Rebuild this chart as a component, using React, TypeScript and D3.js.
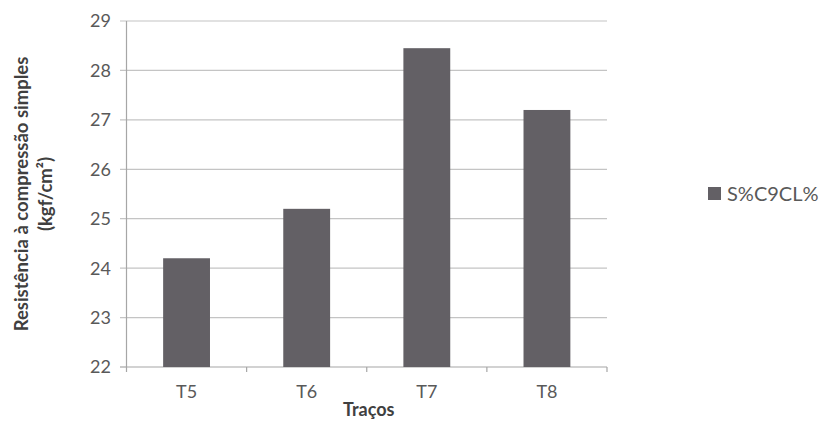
import React from "react";
import * as d3 from "d3";

const categories = ["T5", "T6", "T7", "T8"];
const values = [24.2, 25.2, 28.45, 27.2];
const yTicks = [22, 23, 24, 25, 26, 27, 28, 29];
const seriesName = "S%C9CL%";
const yTitle1 = "Resistência à compressão simples";
const yTitle2 = "(kgf/cm²)";
const xTitle = "Traços";

export default function App() {
  const W = 824, H = 425;
  const left = 126.5, right = 607, top = 21, bottom = 367;
  const x = d3.scaleBand().domain(categories).range([left, right]).paddingInner(0.61).paddingOuter(0.305);
  const y = d3.scaleLinear().domain([22, 29]).range([bottom, top]);
  const font = "Lato, 'Open Sans', sans-serif";
  const txt = "#595959";
  const barColor = "#636065";
  const boundaries = d3.range(categories.length + 1).map(i => left + (i * (right - left)) / categories.length);
  return (
    <svg width={W} height={H} style={{ position: "absolute", left: 0, top: 0, background: "#fff" }}>
      {yTicks.map(t => (
        <g key={t}>
          <line x1={120} x2={t === 22 ? left : right} y1={y(t)} y2={y(t)} stroke={t === 22 ? "#a6a6a6" : "#c4c4c4"} strokeWidth={1.2} />
          <text x={111} y={y(t)} dy="0.36em" textAnchor="end" fontFamily={font} fontSize={18} fill={txt}>{t}</text>
        </g>
      ))}
      <line x1={left} x2={right} y1={bottom} y2={bottom} stroke="#a6a6a6" strokeWidth={1.2} />
      <line x1={left} x2={left} y1={top} y2={bottom} stroke="#a6a6a6" strokeWidth={1.2} />
      {boundaries.map((b, i) => (
        <line key={i} x1={b} x2={b} y1={bottom} y2={bottom + 5} stroke="#a6a6a6" strokeWidth={1.2} />
      ))}
      {categories.map((c, i) => (
        <rect key={c} x={x(c)} y={y(values[i])} width={x.bandwidth()} height={bottom - y(values[i])} fill={barColor} />
      ))}
      {categories.map(c => (
        <text key={c} x={(x(c) as number) + x.bandwidth() / 2} y={398} textAnchor="middle" fontFamily={font} fontSize={18} fill={txt}>{c}</text>
      ))}
      <text x={(left + right) / 2 + 2} y={416} textAnchor="middle" fontFamily={font} fontSize={18} fontWeight="bold" fill="#404040">{xTitle}</text>
      <text transform={`translate(28,194) rotate(-90)`} textAnchor="middle" fontFamily={font} fontSize={18.5} fontWeight="bold" fill="#404040">{yTitle1}</text>
      <text transform={`translate(52,194) rotate(-90)`} textAnchor="middle" fontFamily={font} fontSize={18.5} fontWeight="bold" fill="#404040">{yTitle2}</text>
      <rect x={708} y={187} width={13} height={13} fill={barColor} />
      <text x={727} y={201} fontFamily={font} fontSize={20} fill={txt}>{seriesName}</text>
    </svg>
  );
}
